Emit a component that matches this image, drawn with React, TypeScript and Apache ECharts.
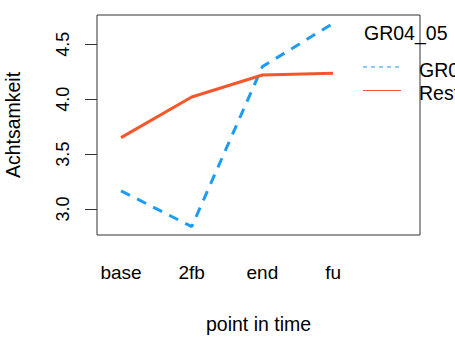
import React, { useEffect, useRef } from "react";
import * as echarts from "echarts";

const categories = ["base", "2fb", "end", "fu"];
const xPositions = [1, 2, 3, 4];
const grValues = [3.166, 2.84, 4.296, 4.69];
const restValues = [3.65, 4.02, 4.22, 4.235];
const yTicks = [3.0, 3.5, 4.0, 4.5];
const seriesNames = ["GR04_05", "Rest"];
const legendTitle = "GR04_05";

const BLUE = "#1E9CF3";
const RED = "#F5562A";
const FONT = "Liberation Sans";

export default function App() {
  const ref = useRef<HTMLDivElement>(null);
  useEffect(() => {
    if (!ref.current) return;
    const chart = echarts.init(ref.current, null, { renderer: "svg" });
    chart.setOption({
      animation: false,
      backgroundColor: "#ffffff",
      grid: {
        left: 97,
        right: 35,
        top: 15,
        bottom: 110,
        show: true,
        borderColor: "#333333",
        borderWidth: 1,
        backgroundColor: "transparent",
        containLabel: false,
        outerBoundsMode: "none",
      },
      xAxis: {
        type: "value",
        min: 0.66,
        max: 5.23,
        name: "point in time",
        nameLocation: "middle",
        nameGap: 79,
        nameTextStyle: { fontFamily: FONT, fontSize: 19.5, color: "#000" },
        axisLine: { show: false },
        axisTick: { show: false },
        splitLine: { show: false },
        axisLabel: {
          customValues: xPositions,
          formatter: (v: number) => categories[Math.round(v) - 1] ?? "",
          fontFamily: FONT,
          fontSize: 19,
          color: "#000",
          margin: 28,
        },
      },
      yAxis: {
        type: "value",
        min: 2.764,
        max: 4.766,
        name: "Achtsamkeit",
        nameLocation: "middle",
        nameGap: 74,
        nameRotate: 90,
        nameTextStyle: { fontFamily: FONT, fontSize: 19.5, color: "#000" },
        axisLine: { show: false },
        splitLine: { show: false },
        axisTick: {
          show: true,
          customValues: yTicks,
          length: 12,
          lineStyle: { color: "#333", width: 1 },
        },
        axisLabel: {
          customValues: yTicks,
          formatter: (v: number) => v.toFixed(1),
          rotate: 90,
          fontFamily: FONT,
          fontSize: 18,
          color: "#000",
          margin: 34,
          verticalAlign: "middle",
          align: "center",
        },
      },
      series: [
        {
          name: seriesNames[0],
          type: "line",
          data: xPositions.map((x, i) => [x, grValues[i]]),
          showSymbol: false,
          symbol: "none",
          lineStyle: { color: BLUE, width: 3, type: [10, 8], cap: "butt" },
          z: 2,
        },
        {
          name: seriesNames[1],
          type: "line",
          data: xPositions.map((x, i) => [x, restValues[i]]),
          showSymbol: false,
          symbol: "none",
          lineStyle: { color: RED, width: 3, cap: "butt" },
          z: 3,
        },
      ],
      graphic: [
        {
          type: "text",
          left: 364,
          top: 23,
          z: 100,
          style: { text: legendTitle, font: `19.5px ${FONT}`, fill: "#000" },
        },
        {
          type: "line",
          shape: { x1: 363, y1: 67, x2: 401, y2: 67 },
          style: { stroke: BLUE, lineWidth: 1.2, lineDash: [4, 4] },
        },
        {
          type: "line",
          shape: { x1: 363, y1: 90.5, x2: 401, y2: 90.5 },
          style: { stroke: RED, lineWidth: 1.2 },
        },
        {
          type: "text",
          left: 419,
          top: 60,
          z: 100,
          style: { text: seriesNames[0], font: `19.5px ${FONT}`, fill: "#000" },
        },
        {
          type: "text",
          left: 419,
          top: 83,
          z: 100,
          style: { text: seriesNames[1], font: `19.5px ${FONT}`, fill: "#000" },
        },
      ],
    });
    return () => chart.dispose();
  }, []);
  return <div ref={ref} style={{ width: 455, height: 345, position: "absolute", left: 0, top: 0 }} />;
}
